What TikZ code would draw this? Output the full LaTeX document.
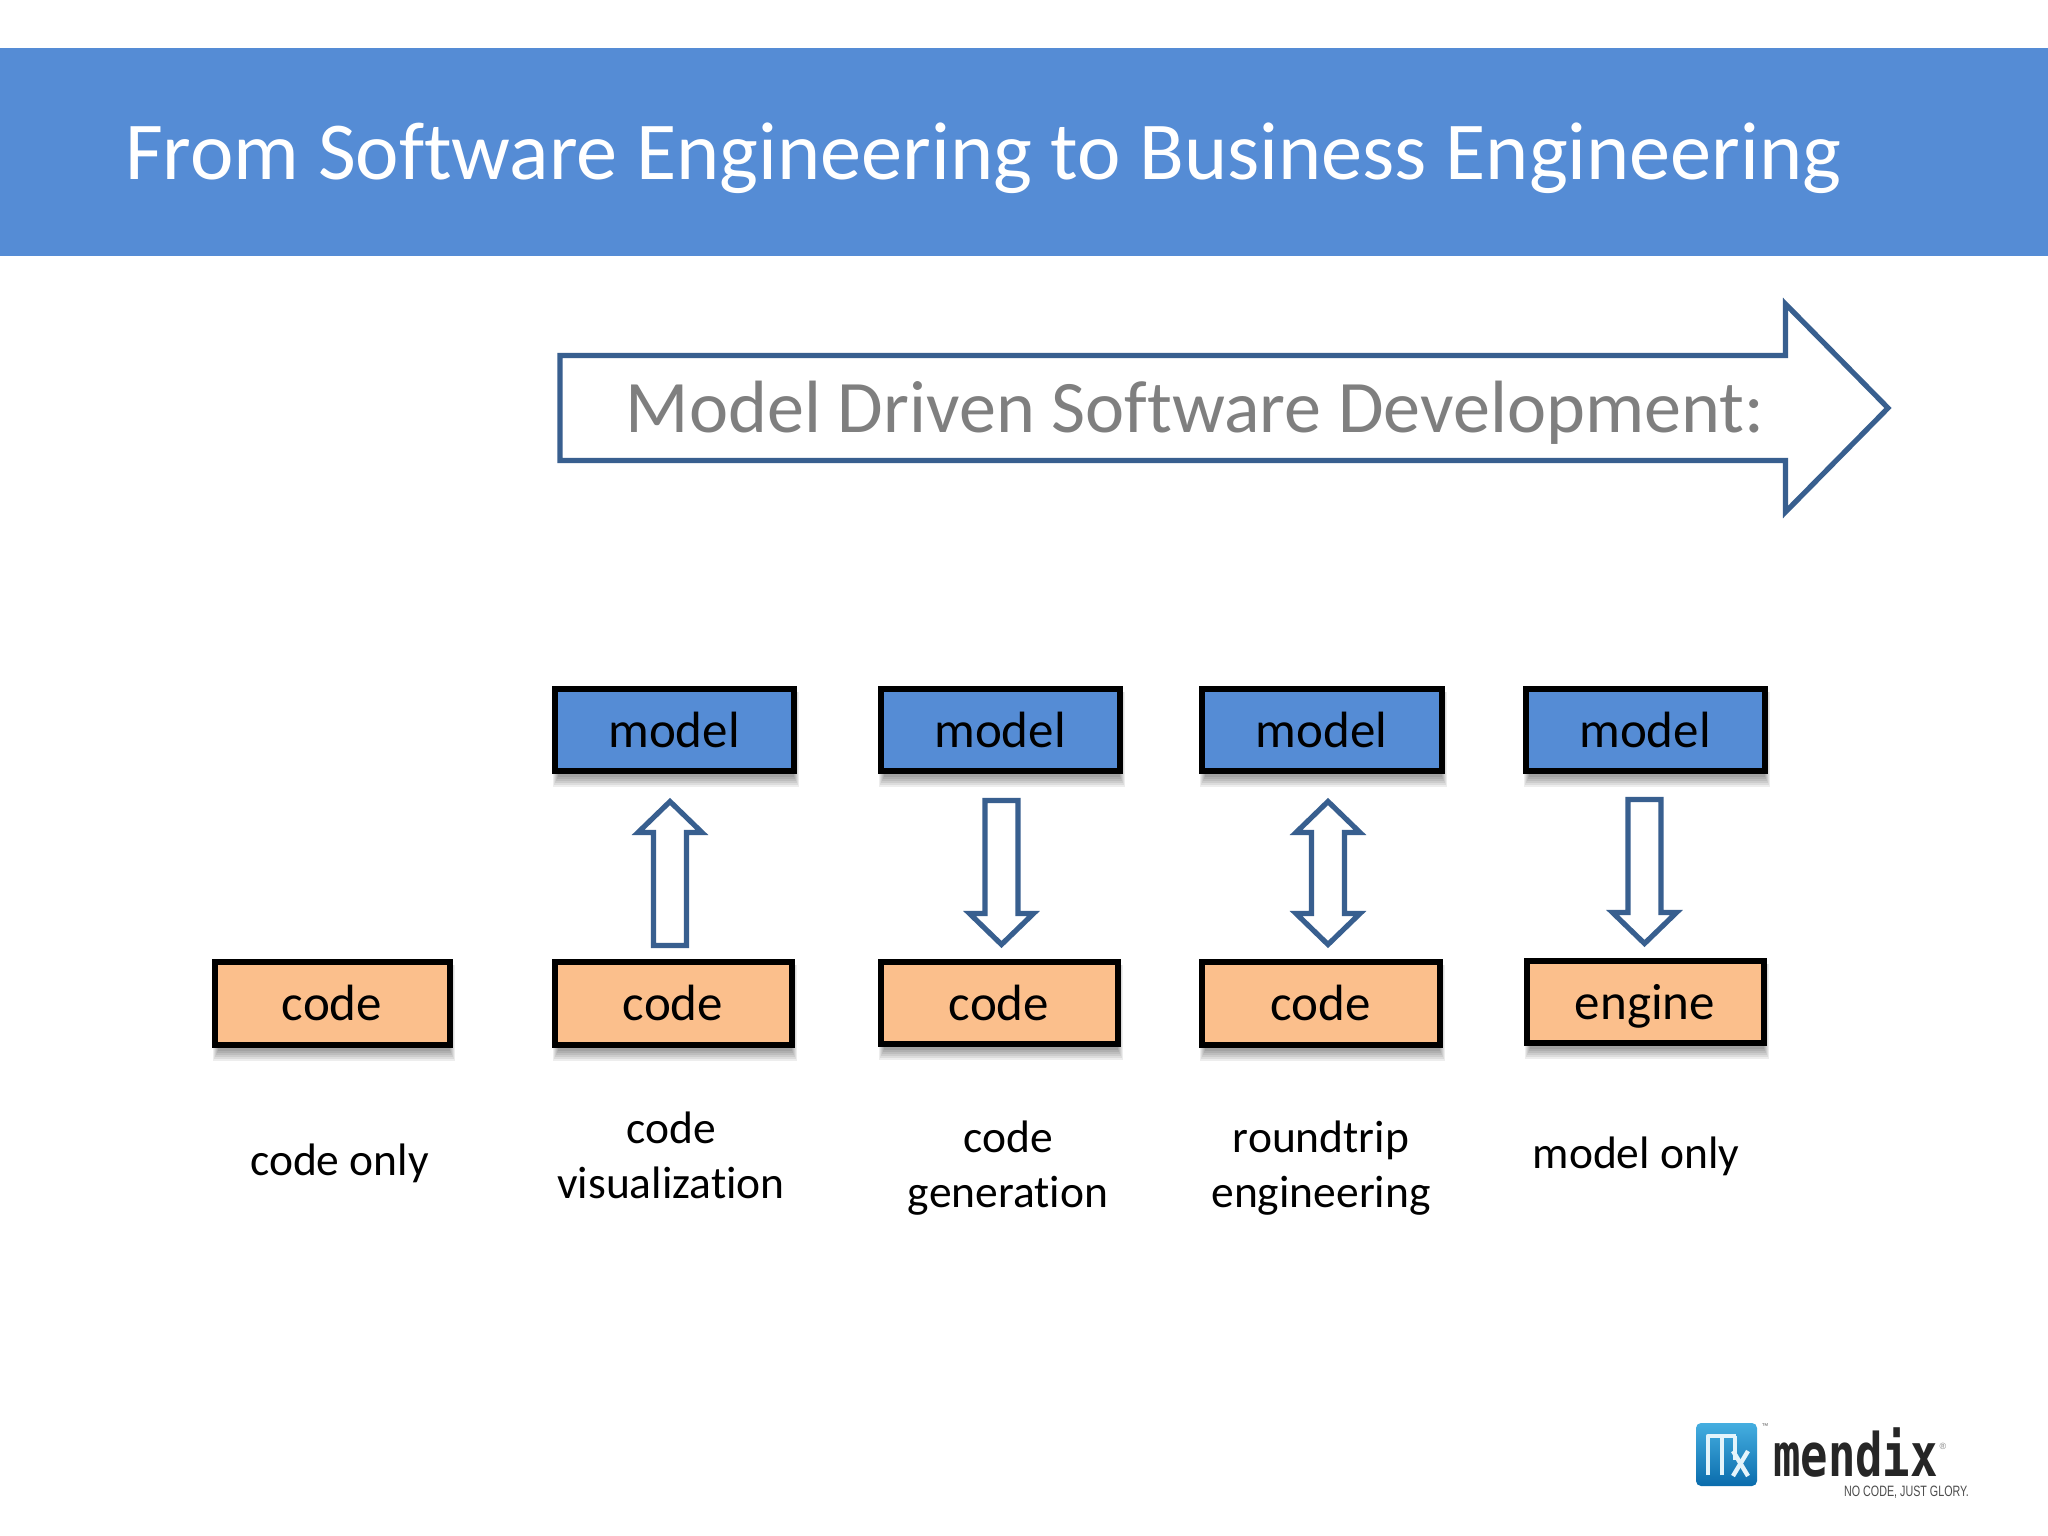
\documentclass[tikz,border=0pt]{standalone}
\usepackage{fontspec}
\setmainfont[Ligatures=CommonOff]{Carlito}
\newfontfamily\logofont[Scale=1]{DejaVu Sans Mono}
\newfontfamily\tagfont{Liberation Sans}
\usetikzlibrary{calc}
\definecolor{band}{HTML}{558CD5}
\definecolor{codefill}{HTML}{FBBF8C}
\definecolor{arrowblue}{HTML}{385F8F}
\definecolor{graytext}{HTML}{7F7F7F}
\definecolor{logotop}{HTML}{45AEE0}
\definecolor{logobot}{HTML}{0A6CAC}
\definecolor{logoglyph}{HTML}{E4F4FB}
\newcommand{\fpx}[1]{\fontsize{#1}{#1}\selectfont}
\tikzset{
  boxnode/.style={draw=black,line width=6pt,rectangle,inner sep=0pt,text=black,font=\fpx{51},text height=35pt,text depth=0pt,align=center},
  blockarrow/.style={draw=arrowblue,line width=5.2pt,fill=white,miter limit=10},
  caption/.style={anchor=base,font=\fpx{45.5},text=black,inner sep=0pt,align=center},
  logostroke/.style={logoglyph,line width=4.4pt},
}
% name, x1, y1, x2, y2, fill, text
\newcommand{\bx}[7]{%
  \foreach \k in {0,2,4,6,8,10}{
    \fill[black,opacity=.07] ({#2+1+\k/2},{#3+6}) rectangle ({#4+3-\k/2},{#5+14-\k});
  }
  \node[boxnode,fill=#6,minimum width={(#4-#2-5)*1pt},minimum height={(#5-#3-5)*1pt}] (#1) at ({(#2+#4)/2},{(#3+#5)/2}) {#7};
}
\newcommand{\uparr}[1]{%
  \draw[blockarrow] (#1-16.5,945.5) -- (#1+16.5,945.5) -- (#1+16.5,832.5) -- (#1+32,832.5) -- (#1,801.5) -- (#1-32,832.5) -- (#1-16.5,832.5) -- cycle;}
\newcommand{\downarr}[2]{%
  \draw[blockarrow] (#1-16.5,800.5+#2) -- (#1+16.5,800.5+#2) -- (#1+16.5,913.5+#2) -- (#1+32,913.5+#2) -- (#1,944.5+#2) -- (#1-32,913.5+#2) -- (#1-16.5,913.5+#2) -- cycle;}
\newcommand{\dblarr}[1]{%
  \draw[blockarrow] (#1-16.5,832.5) -- (#1-32,832.5) -- (#1,801.5) -- (#1+32,832.5) -- (#1+16.5,832.5) -- (#1+16.5,913.5) -- (#1+32,913.5) -- (#1,944.5) -- (#1-32,913.5) -- (#1-16.5,913.5) -- cycle;}
\begin{document}
\begin{tikzpicture}[x=1pt,y=-1pt]
\useasboundingbox (0,0) rectangle (2048,1536);
\fill[white] (0,0) rectangle (2048,1536);
\fill[band] (0,48) rectangle (2048,256);
\node[anchor=base west,inner sep=0pt,text=white,font=\fpx{82.3}] (title) at (125,179) {From Software Engineering to Business Engineering};
% big arrow
\draw[draw=arrowblue,line width=5.2pt,miter limit=10,fill=white] (560,355.5) -- (1785.5,355.5) -- (1785.5,304) -- (1888,408) -- (1785.5,512) -- (1785.5,460.5) -- (560,460.5) -- cycle;
\node[anchor=base,inner sep=0pt,text=graytext,font=\fpx{74.1}] (mdsd) at (1195,432) {Model Driven Software Development:};
% boxes
\bx{c0}{212}{959}{452}{1047}{codefill}{code}
\bx{m1}{552}{686}{796}{773}{band}{model}
\bx{c1}{552}{959}{794}{1047}{codefill}{code}
\bx{m2}{878}{686}{1122}{773}{band}{model}
\bx{c2}{878}{959}{1120}{1046}{codefill}{code}
\bx{m3}{1199}{686}{1444}{773}{band}{model}
\bx{c3}{1199}{959}{1442}{1047}{codefill}{code}
\bx{m4}{1523}{686}{1767}{773}{band}{model}
\bx{c4}{1524}{958}{1766}{1045}{codefill}{engine}
% block arrows
\uparr{670}
\downarr{1001.5}{0}
\dblarr{1328}
\downarr{1644.5}{-1}
% captions
\node[caption] (t0) at (339.5,1175) {code only};
\node[caption] (t1a) at (671,1143) {code};
\node[caption] (t1b) at (671,1198) {visualization};
\node[caption] (t2a) at (1008,1152) {code};
\node[caption] (t2b) at (1008,1207) {generation};
\node[caption] (t3a) at (1321,1152) {roundtrip};
\node[caption] (t3b) at (1321,1207) {engineering};
\node[caption] (t4) at (1636,1168) {model only};
% logo
\shade[top color=logotop,bottom color=logobot,rounded corners=5pt] (1696,1423) rectangle (1757,1486);
\draw[logostroke,line join=round] (1708,1475) -- (1708,1436) -- (1736,1436);
\draw[logostroke] (1722,1475) -- (1722,1436);
\draw[logostroke] (1735,1460) -- (1735,1436);
\draw[logostroke] (1733,1451) -- (1748,1476);
\draw[logostroke] (1748,1451) -- (1733,1476);
\node[anchor=base west,inner sep=0pt,xscale=.76,transform shape,font={\logofont\bfseries\fpx{60}},text=black!85] (mendix) at (1773,1476) {mendix};
\node[anchor=base west,inner sep=0pt,xscale=.715,transform shape,font={\tagfont\fpx{15}},text=black!70] (tag) at (1844,1496) {NO CODE, JUST GLORY.};
\node[inner sep=0pt,font={\tagfont\fpx{7}},text=black!60] (tm) at (1765,1426) {™};
\node[inner sep=0pt,font={\tagfont\fpx{9}},text=black!50] (reg) at (1943,1446) {®};
\end{tikzpicture}
\end{document}
